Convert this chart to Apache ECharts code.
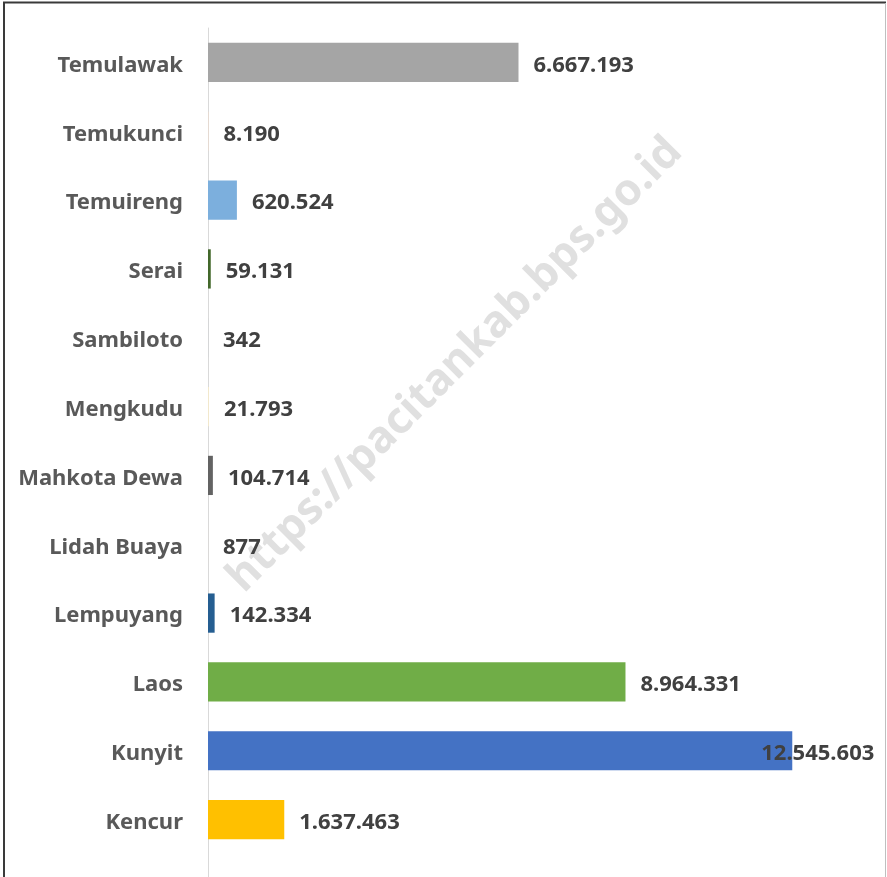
<!DOCTYPE html>
<html>
<head>
<meta charset="utf-8">
<script src="https://cdn.jsdelivr.net/npm/echarts@6/dist/echarts.min.js"></script>
<style>
    html, body { margin: 0; padding: 0; background: #fff; }
    #container { width: 887px; height: 877px; }
</style>
</head>
<body>
<div id="container"></div>
<script type="text/javascript">
    // kategori dari bawah ke atas
    var categories = ['Kencur', 'Kunyit', 'Laos', 'Lempuyang', 'Lidah Buaya', 'Mahkota Dewa',
        'Mengkudu', 'Sambiloto', 'Serai', 'Temuireng', 'Temukunci', 'Temulawak'];
    var values = [1637463, 12545603, 8964331, 142334, 877, 104714,
        21793, 342, 59131, 620524, 8190, 6667193];
    var barColors = ['#FFC000', '#4472C4', '#70AD47', '#255E91', '#F4D7C4', '#636363',
        '#F2E8CC', '#264478', '#43682B', '#7CAFDD', '#F9DCC8', '#A5A5A5'];

    function fmt(v) {
        return String(v).replace(/\B(?=(\d{3})+(?!\d))/g, '.');
    }

    var seriesData = [];
    for (var i = 0; i < values.length; i++) {
        var item = {value: values[i], itemStyle: {color: barColors[i]}};
        if (categories[i] === 'Kunyit') {
            // label tidak muat, digeser ke kiri seperti di Excel
            item.label = {offset: [-46, 3]};
        }
        seriesData.push(item);
    }

    var dom = document.getElementById('container');
    var myChart = echarts.init(dom);
    var option = {
        backgroundColor: '#ffffff',
        animation: false,
        grid: {left: 208, right: 27, top: 28, bottom: 23},
        xAxis: {
            type: 'value',
            min: 0,
            max: 14000000,
            show: false
        },
        yAxis: {
            type: 'category',
            data: categories,
            axisTick: {show: false},
            axisLine: {show: true, lineStyle: {color: '#d9d9d9', width: 1}},
            axisLabel: {
                margin: 25,
                formatter: function (v) {
                    return '{c|' + v + '}';
                },
                rich: {
                    c: {
                        color: '#595959',
                        fontFamily: 'Noto Sans',
                        fontWeight: 'bold',
                        fontSize: 22,
                        padding: [6, 0, 0, 0]
                    }
                }
            },
            splitLine: {show: false}
        },
        graphic: [
            {
                type: 'text',
                x: 455, y: 365,
                rotation: Math.PI / 4,
                style: {
                    text: 'https://pacitankab.bps.go.id',
                    x: 0, y: 0,
                    align: 'center',
                    verticalAlign: 'middle',
                    fill: '#e0e0e0',
                    font: 'bold 44px "Noto Sans"'
                },
                silent: true,
                z: 1
            },
            {
                type: 'line',
                shape: {x1: 208.5, y1: 850, x2: 208.5, y2: 877},
                style: {stroke: '#d9d9d9', lineWidth: 1},
                silent: true
            },
            {
                type: 'polyline',
                shape: {points: [[4, 877], [4, 2.5], [886, 2.5]]},
                style: {stroke: '#3a3a3a', lineWidth: 2, fill: null},
                silent: true
            },
            {
                type: 'line',
                shape: {x1: 885.5, y1: 3, x2: 885.5, y2: 877},
                style: {stroke: '#bfbfbf', lineWidth: 1},
                silent: true
            }
        ],
        series: [{
            type: 'bar',
            data: seriesData,
            barCategoryGap: '43%',
            z: 3,
            label: {
                show: true,
                position: 'right',
                distance: 15,
                offset: [0, 3],
                color: '#404040',
                fontFamily: 'Noto Sans',
                fontWeight: 'bold',
                fontSize: 22,
                formatter: function (p) {
                    return fmt(p.value);
                }
            }
        }]
    };
    myChart.setOption(option);
</script>
</body>
</html>
